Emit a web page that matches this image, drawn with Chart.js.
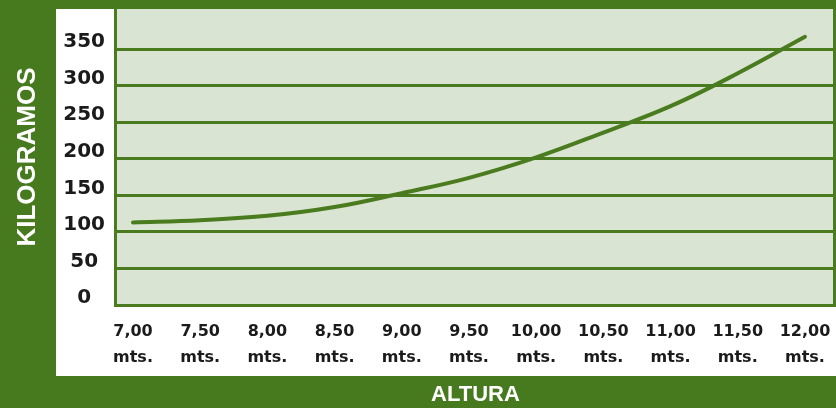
<!DOCTYPE html>
<html>
<head>
<meta charset="utf-8">
<script src="https://cdn.jsdelivr.net/npm/chart.js@4.4.0/dist/chart.umd.min.js"></script>
<style>
    body { margin: 0; background: #477a1f; }
    #wrap { position: relative; width: 836px; height: 408px; }
    #panel { position: absolute; left: 56px; top: 9px; width: 780px; height: 367px; background: #ffffff; }
    #alturaChart { position: absolute; left: 0; top: 0; }
</style>
</head>
<body>
<div id="wrap">
    <div id="panel"></div>
    <canvas id="alturaChart" width="836" height="408"></canvas>
</div>
<script>
// altura (m) vs peso (kg)
const alturas = [7, 7.5, 8, 8.5, 9, 9.5, 10, 10.5, 11, 11.5, 12];
const kilos = [113, 116, 122, 134, 153, 174, 202, 236, 272, 317, 367];
const xTickLabels = ['7,00', '7,50', '8,00', '8,50', '9,00', '9,50', '10,00', '10,50', '11,00', '11,50', '12,00'];
const xUnit = 'mts.';
const yTicks = [0, 50, 100, 150, 200, 250, 300, 350];

const GREEN = '#4a7c1f';
const PLOT_BG = '#dae4d2';

const plotFrame = {
    id: 'plotFrame',
    beforeDraw(chart) {
        const { ctx, chartArea: a } = chart;
        ctx.save();
        ctx.fillStyle = PLOT_BG;
        ctx.fillRect(a.left, a.top, a.right - a.left, a.bottom - a.top);
        ctx.restore();
    },
    afterDraw(chart) {
        const { ctx, chartArea: a } = chart;
        ctx.save();
        ctx.strokeStyle = GREEN;
        ctx.lineWidth = 3;
        ctx.beginPath();
        ctx.moveTo(a.right - 1.5, a.top);
        ctx.lineTo(a.right - 1.5, a.bottom);
        ctx.stroke();
        ctx.restore();
    }
};

function createAlturaChart() {
    const ctx = document.getElementById('alturaChart').getContext('2d');
    new Chart(ctx, {
        type: 'line',
        data: {
            datasets: [{
                data: alturas.map((a, i) => ({ x: a, y: kilos[i] })),
                borderColor: GREEN,
                borderWidth: 4,
                borderCapStyle: 'round',
                pointRadius: 0,
                tension: 0.4
            }]
        },
        options: {
            responsive: false,
            animation: false,
            layout: {
                autoPadding: false,
                padding: { left: 0, top: 9, right: 0, bottom: 0 }
            },
            plugins: {
                legend: { display: false },
                tooltip: { enabled: false }
            },
            scales: {
                x: {
                    type: 'linear',
                    min: 6.866,
                    max: 12.231,
                    afterBuildTicks: scale => { scale.ticks = alturas.map(v => ({ value: v })); },
                    afterFit: scale => {
                        scale.height = 103;
                        scale.paddingLeft = 0;
                        scale.paddingRight = 0;
                    },
                    grid: { display: false, drawTicks: false },
                    border: { color: GREEN, width: 3 },
                    ticks: {
                        autoSkip: false,
                        maxRotation: 0,
                        padding: 14,
                        color: '#1b1b1b',
                        font: { family: 'DejaVu Sans', weight: 'bold', size: 16, lineHeight: 1.6 },
                        callback: (value, index) => [xTickLabels[index], xUnit]
                    },
                    title: {
                        display: true,
                        text: 'ALTURA',
                        color: '#ffffff',
                        font: { family: 'Liberation Sans', weight: 'bold', size: 22 },
                        padding: { top: 0, bottom: 0 }
                    }
                },
                y: {
                    min: 0,
                    max: 405,
                    afterBuildTicks: scale => { scale.ticks = yTicks.map(v => ({ value: v })); },
                    afterFit: scale => {
                        scale.width = 115;
                        scale.paddingTop = 0;
                        scale.paddingBottom = 0;
                    },
                    grid: { color: GREEN, lineWidth: 3, drawTicks: false },
                    border: { color: GREEN, width: 3 },
                    ticks: {
                        padding: 10,
                        crossAlign: 'center',
                        labelOffset: -7,
                        color: '#1b1b1b',
                        font: { family: 'DejaVu Sans', weight: 'bold', size: 20 }
                    },
                    title: {
                        display: true,
                        text: 'KILOGRAMOS',
                        color: '#ffffff',
                        font: { family: 'Liberation Sans', weight: 'bold', size: 26 },
                        padding: { top: 12, bottom: 0 }
                    }
                }
            }
        },
        plugins: [plotFrame]
    });
}

createAlturaChart();
</script>
</body>
</html>
